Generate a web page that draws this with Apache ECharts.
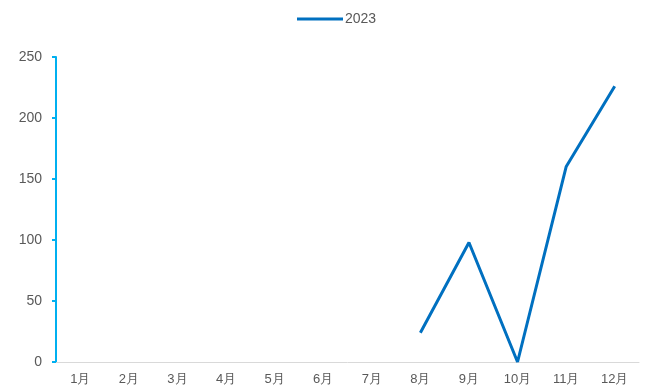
<!DOCTYPE html>
<html>
<head>
<meta charset="utf-8">
<script src="https://cdn.jsdelivr.net/npm/echarts@6/dist/echarts.min.js"></script>
<style>
  html, body { margin: 0; padding: 0; background: #fff; }
  #chart { width: 645px; height: 387px; }
</style>
</head>
<body>
<div id="chart"></div>
<script>
// 月份
const categories = ['1月', '2月', '3月', '4月', '5月', '6月', '7月', '8月', '9月', '10月', '11月', '12月']
// 2023 数据(前7个月无数据)
const values2023 = [null, null, null, null, null, null, null, 24, 98, 0, 160, 226]

const myEchart = echarts.init(document.getElementById('chart'))
const options = {
  animation: false,
  legend: {
    top: 12,
    left: 297,
    padding: 0,
    itemWidth: 46,
    itemHeight: 3,
    itemGap: 4,
    icon: 'rect',
    textStyle: {
      color: '#595959',
      fontSize: 14,
      padding: [0, 0, 0, -3]
    },
    data: ['2023']
  },
  grid: {
    top: 57,
    bottom: 25,
    left: 56,
    right: 6
  },
  xAxis: {
    type: 'category',
    boundaryGap: true,
    data: categories,
    axisLine: {
      lineStyle: { color: '#d9d9d9', width: 1 }
    },
    axisTick: { show: false },
    axisLabel: {
      interval: 0,
      margin: 11,
      color: '#595959',
      fontSize: 13
    }
  },
  yAxis: {
    type: 'value',
    min: 0,
    max: 250,
    interval: 50,
    axisLine: {
      show: true,
      lineStyle: { color: '#00b0f0', width: 2 }
    },
    axisTick: {
      show: true,
      length: 4,
      lineStyle: { color: '#00b0f0', width: 2 }
    },
    axisLabel: {
      color: '#595959',
      fontSize: 14,
      margin: 14
    },
    splitLine: { show: false }
  },
  series: [
    {
      name: '2023',
      type: 'line',
      data: values2023,
      showSymbol: false,
      symbol: 'none',
      lineStyle: { color: '#0070c0', width: 3 },
      itemStyle: { color: '#0070c0' },
      connectNulls: false
    }
  ]
}
myEchart.setOption(options)
</script>
</body>
</html>
